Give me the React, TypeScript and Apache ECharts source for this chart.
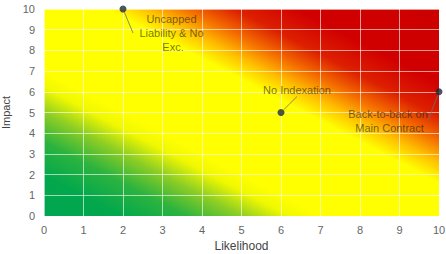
import React, { useEffect, useRef } from "react";
import * as echarts from "echarts";

const riskNames = ["Uncapped Liability & No Exc.", "No Indexation", "Back-to-back on Main Contract"];
const likelihood = [2, 6, 10];
const impact = [10, 5, 6];
const xTicks = [0, 1, 2, 3, 4, 5, 6, 7, 8, 9, 10];
const yTicks = [0, 1, 2, 3, 4, 5, 6, 7, 8, 9, 10];

const labelOffsets = [
  [50, 24],
  [16, -23],
  [-51, 29],
];

export default function App() {
  const ref = useRef<HTMLDivElement>(null);
  useEffect(() => {
    if (!ref.current) return;
    const chart = echarts.init(ref.current, undefined, { renderer: "svg" });
    const bg = new echarts.graphic.LinearGradient(0, 1, 1, 0, [
      { offset: 0, color: "#00a651" },
      { offset: 0.1, color: "#03a84c" },
      { offset: 0.18, color: "#2cb33f" },
      { offset: 0.25, color: "#8ccd25" },
      { offset: 0.31, color: "#f0f800" },
      { offset: 0.35, color: "#ffff00" },
      { offset: 0.58, color: "#ffff00" },
      { offset: 0.63, color: "#ffbf00" },
      { offset: 0.68, color: "#f57000" },
      { offset: 0.74, color: "#dd2000" },
      { offset: 0.82, color: "#d10000" },
      { offset: 1, color: "#cc0000" },
    ]);
    const font = "'Liberation Sans', Arial, sans-serif";
    chart.setOption({
      animation: false,
      grid: {
        left: 44,
        right: 7,
        top: 9,
        bottom: 38,
        outerBoundsMode: "none",
        containLabel: false,
        show: true,
        backgroundColor: bg,
        borderWidth: 0,
      },
      xAxis: {
        type: "value",
        min: xTicks[0],
        max: xTicks[xTicks.length - 1],
        interval: 1,
        name: "Likelihood",
        nameLocation: "middle",
        nameGap: 24,
        nameTextStyle: { color: "#444", fontSize: 12, fontFamily: font },
        axisLine: { show: false },
        axisTick: { show: false },
        axisLabel: { color: "#666", fontSize: 11, margin: 8, fontFamily: font },
        splitLine: { show: true, lineStyle: { color: "rgba(255,255,255,0.6)", width: 1 } },
      },
      yAxis: {
        type: "value",
        min: yTicks[0],
        max: yTicks[yTicks.length - 1],
        interval: 1,
        name: "Impact",
        nameLocation: "middle",
        nameGap: 26,
        nameTextStyle: { color: "#444", fontSize: 11, fontFamily: font },
        axisLine: { show: false },
        axisTick: { show: false },
        axisLabel: { color: "#666", fontSize: 11, margin: 9, fontFamily: font },
        splitLine: { show: true, lineStyle: { color: "rgba(255,255,255,0.6)", width: 1 } },
      },
      series: [
        {
          type: "scatter",
          clip: false,
          symbolSize: 7,
          itemStyle: { color: "#1b2a3a" },
          data: likelihood.map((x, i) => ({ name: riskNames[i], value: [x, impact[i]] })),
          label: {
            show: true,
            position: "inside",
            formatter: "{b}",
            color: "rgba(35,30,15,0.78)",
            fontSize: 11,
            lineHeight: 14,
            fontFamily: font,
            width: 80,
            overflow: "break",
            align: "center",
            verticalAlign: "middle",
          },
          labelLine: {
            show: true,
            lineStyle: { color: "rgba(110,110,110,0.8)", width: 1 },
          },
          labelLayout: (params: any) => ({
            dx: labelOffsets[params.dataIndex][0],
            dy: labelOffsets[params.dataIndex][1],
          }),
        },
      ],
    });
    return () => chart.dispose();
  }, []);
  return <div ref={ref} style={{ width: 446, height: 254, position: "absolute", left: 0, top: 0 }} />;
}
